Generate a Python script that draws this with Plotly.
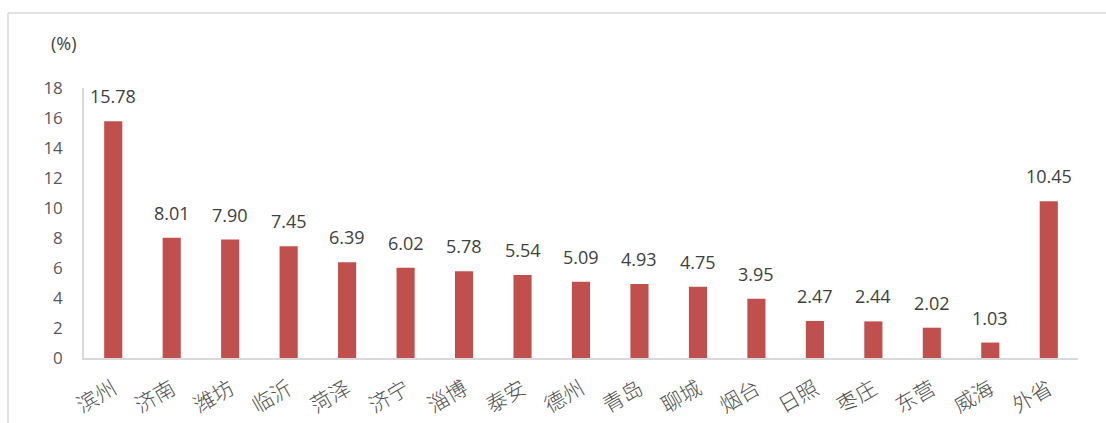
import plotly.graph_objects as go

categories = ["滨州", "济南", "潍坊", "临沂", "菏泽", "济宁", "淄博", "泰安", "德州", "青岛", "聊城", "烟台", "日照", "枣庄", "东营", "威海", "外省"]
values = [15.78, 8.01, 7.90, 7.45, 6.39, 6.02, 5.78, 5.54, 5.09, 4.93, 4.75, 3.95, 2.47, 2.44, 2.02, 1.03, 10.45]
y_ticks = [0, 2, 4, 6, 8, 10, 12, 14, 16, 18]

W, H = 1106, 423
L, R, T, B = 84, 28, 88, 65
pw, ph = W - L - R, H - T - B

fig = go.Figure()
fig.add_trace(go.Bar(
    x=categories, y=values,
    marker=dict(color="#C0504D", line=dict(width=0)),
    hoverinfo="x+y",
))

for c, v in zip(categories, values):
    fig.add_annotation(x=c, y=v, text=f"{v:.2f}", showarrow=False,
                       yanchor="bottom", yshift=11,
                       font=dict(family="Open Sans, Liberation Sans, sans-serif", size=18, color="#404040"))

fig.add_annotation(xref="paper", yref="paper", x=(49 - L) / pw, y=(H - B - 43) / ph,
                   text="(%)", showarrow=False, xanchor="left", yanchor="middle",
                   font=dict(family="Open Sans, Liberation Sans, sans-serif", size=18, color="#404040"))

# outer frame (top and left edges)
fig.add_shape(type="line", xref="paper", yref="paper",
              x0=(8 - L) / pw, x1=(W + 5 - L) / pw, y0=(H - B - 13) / ph, y1=(H - B - 13) / ph,
              line=dict(color="#D9D9D9", width=1.5))
fig.add_shape(type="line", xref="paper", yref="paper",
              x0=(8 - L) / pw, x1=(8 - L) / pw, y0=(H - B - 13) / ph, y1=(H - B - H - 5) / ph,
              line=dict(color="#D9D9D9", width=1.5))

fig.update_layout(
    width=W, height=H,
    margin=dict(l=L, r=R, t=T, b=B, autoexpand=False),
    plot_bgcolor="white", paper_bgcolor="white",
    bargap=0.69,
    showlegend=False,
    xaxis=dict(
        showgrid=False, showline=True, linecolor="#D9D9D9", linewidth=1.5,
        ticks="", tickangle=-30, automargin=False, ticklabelstandoff=9,
        tickfont=dict(family="Noto Sans CJK SC, sans-serif", size=21, color="#505050", weight=300),
    ),
    yaxis=dict(
        range=[0, 18], tickvals=y_ticks, showgrid=False, zeroline=False,
        showline=True, linecolor="#D9D9D9", linewidth=1.5, ticks="", automargin=False,
        tickfont=dict(family="Open Sans, Liberation Sans, sans-serif", size=17, color="#595959"),
        ticklabelstandoff=16,
    ),
)

fig.write_html("out.html", config={"displayModeBar": False},
               post_script="document.body.style.margin='0';")
